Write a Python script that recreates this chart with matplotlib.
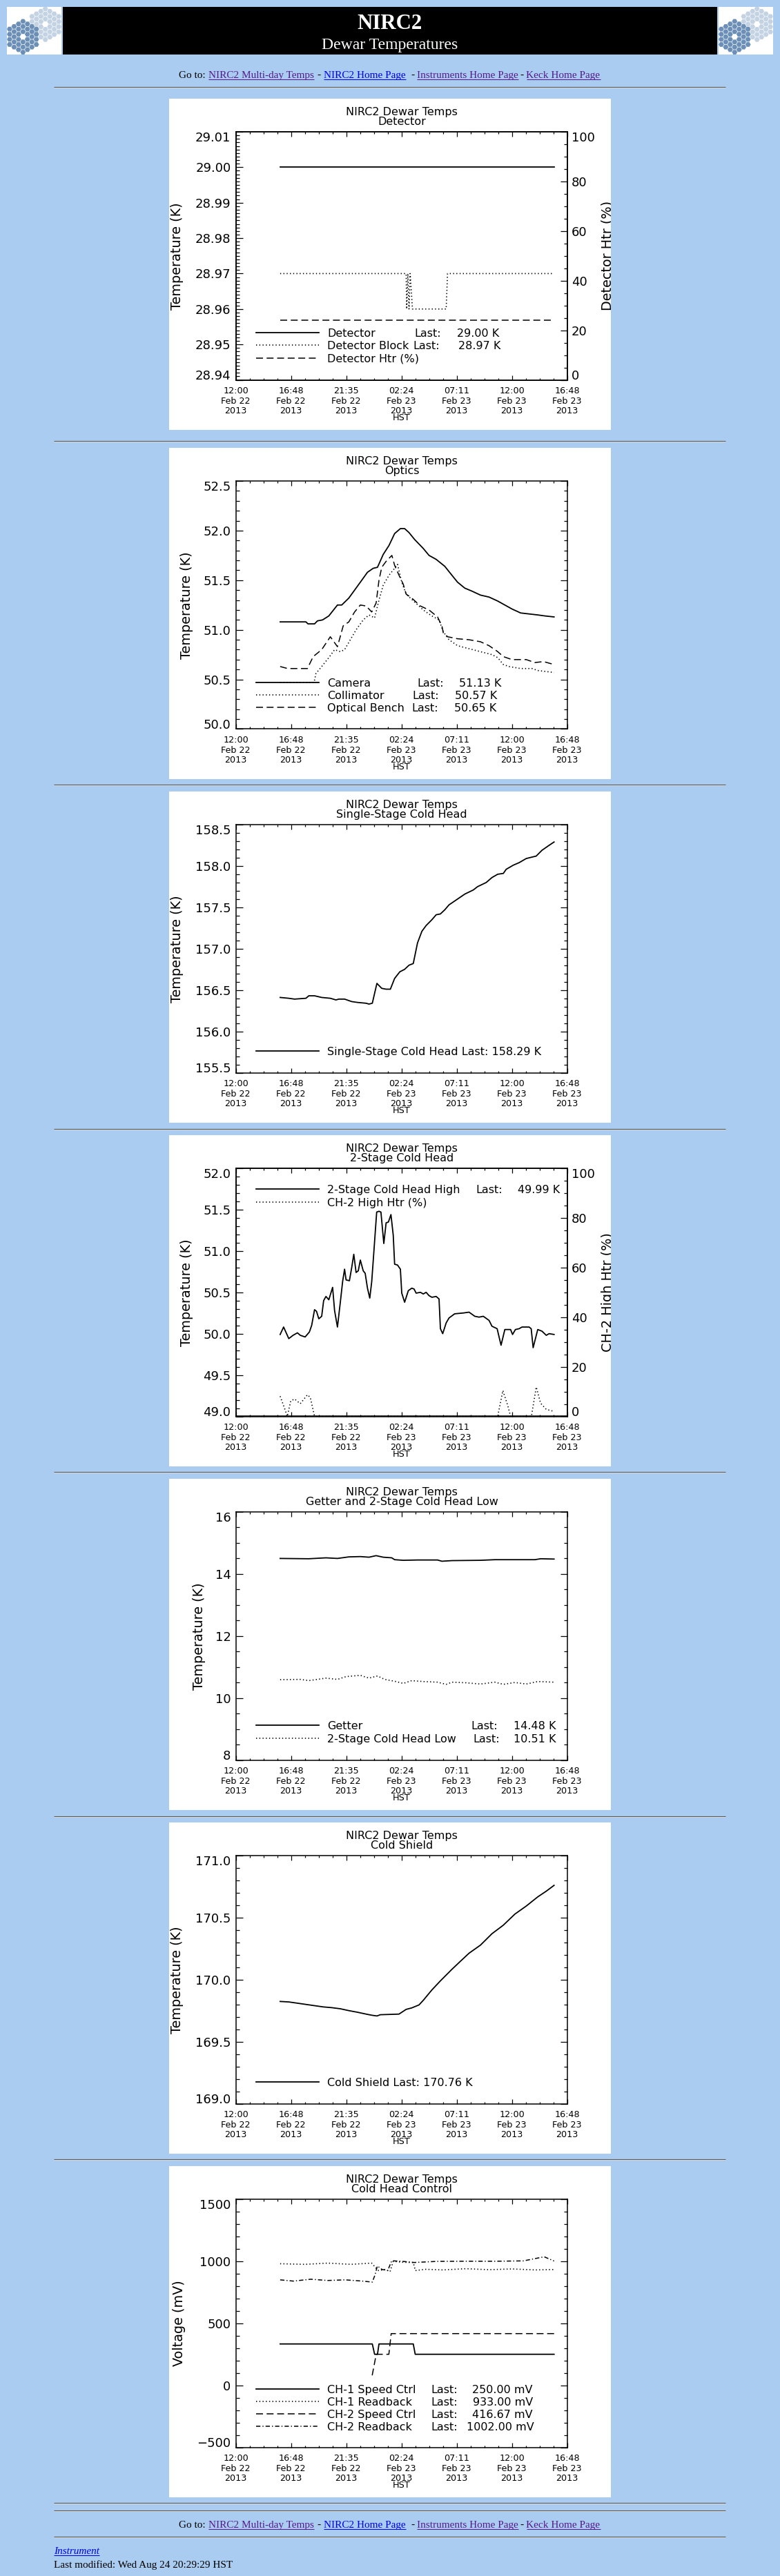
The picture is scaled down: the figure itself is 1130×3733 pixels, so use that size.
import numpy as np
import matplotlib
matplotlib.use('Agg')
import matplotlib.pyplot as plt
from matplotlib.patches import Rectangle, RegularPolygon
from matplotlib.ticker import MultipleLocator

W, H = 1130, 3733
PAGE_BG = '#aaccf0'
SERIF = 'Liberation Serif'
VISITED = '#551a8b'
LINK = '#0000ee'

plt.rcParams['font.family'] = ['DejaVu Sans']
plt.rcParams['lines.scale_dashes'] = False

# x axis: hours after 12:00 Feb 22 2013 HST
x_ticks = [0.0, 4.8, 9.6, 14.4, 19.2, 24.0, 28.8]
x_tick_labels = ['12:00\nFeb 22\n2013', '16:48\nFeb 22\n2013', '21:35\nFeb 22\n2013',
                 '02:24\nFeb 23\n2013', '07:11\nFeb 23\n2013', '12:00\nFeb 23\n2013',
                 '16:48\nFeb 23\n2013']

# --- Detector
det_t = [3.85, 27.65]
det_k = [29.00, 29.00]
blk_t = [3.85, 14.80, 14.85, 14.95, 15.05, 15.15, 15.35, 18.28, 18.40, 27.65]
blk_k = [28.97, 28.97, 28.96, 28.97, 28.96, 28.97, 28.96, 28.96, 28.97, 28.97]
dhtr_t = [3.85, 27.65]
dhtr_p = [24.0, 24.0]

# --- Optics
cam_t = [3.85, 6.09, 6.27, 6.84, 7.09, 7.54, 8.08, 8.83, 9.20, 9.82, 10.32, 10.82, 11.44,
         11.94, 12.31, 12.81, 13.31, 13.80, 14.30, 14.67, 15.05, 15.54, 16.29, 16.79, 17.41,
         18.16, 18.78, 19.27, 19.90, 20.52, 21.26, 22.01, 22.76, 23.38, 24.00, 24.75, 25.49,
         26.24, 26.86, 27.66]
cam_k = [51.08, 51.08, 51.06, 51.06, 51.09, 51.10, 51.14, 51.25, 51.25, 51.32, 51.40, 51.48,
         51.58, 51.62, 51.63, 51.76, 51.85, 51.97, 52.02, 52.02, 51.98, 51.91, 51.82, 51.75,
         51.71, 51.64, 51.55, 51.48, 51.42, 51.39, 51.35, 51.33, 51.29, 51.25, 51.21, 51.17,
         51.16, 51.15, 51.14, 51.13]
col_t = [3.85, 6.80, 6.96, 7.46, 8.08, 8.58, 9.08, 9.45, 9.95, 10.45, 11.07, 11.57, 12.06,
         12.44, 12.81, 13.31, 13.80, 14.05, 14.42, 14.80, 15.54, 16.29, 17.03, 17.66, 18.03,
         18.53, 19.27, 20.26, 21.26, 22.26, 22.76, 23.25, 23.75, 24.75, 25.74, 26.24, 27.66]
col_k = [50.47, 50.47, 50.56, 50.63, 50.72, 50.80, 50.78, 50.80, 50.90, 51.00, 51.10, 51.15,
         51.12, 51.30, 51.45, 51.55, 51.62, 51.66, 51.48, 51.36, 51.28, 51.20, 51.14, 51.10,
         50.98, 50.90, 50.84, 50.81, 50.78, 50.75, 50.72, 50.65, 50.63, 50.61, 50.61, 50.59,
         50.57]
ob_t = [3.85, 4.50, 6.22, 6.72, 7.46, 8.21, 8.83, 9.33, 9.82, 10.32, 10.82, 11.32, 11.81,
        12.19, 12.44, 12.68, 13.06, 13.56, 13.80, 14.18, 14.55, 14.80, 15.29, 16.04, 16.79,
        17.53, 17.91, 18.03, 18.41, 19.27, 20.27, 21.26, 22.01, 22.76, 23.25, 24.00, 25.24,
        25.99, 26.74, 27.66]
ob_k = [50.63, 50.61, 50.61, 50.73, 50.80, 50.93, 50.83, 51.04, 51.08, 51.18, 51.25, 51.24,
        51.18, 51.27, 51.50, 51.63, 51.69, 51.75, 51.65, 51.55, 51.46, 51.36, 51.32, 51.24,
        51.20, 51.13, 51.04, 50.97, 50.93, 50.91, 50.90, 50.88, 50.84, 50.78, 50.73, 50.70,
        50.70, 50.67, 50.68, 50.65]

# --- Single-stage cold head
ss_t = [3.85, 4.60, 5.10, 6.09, 6.34, 6.84, 7.46, 8.21, 8.70, 8.95, 9.45, 10.07, 10.57, 11.32,
        11.57, 11.86, 12.26, 12.68, 13.06, 13.43, 13.80, 14.25, 14.67, 15.05, 15.42, 15.79,
        16.17, 16.54, 17.04, 17.41, 17.78, 18.16, 18.53, 19.27, 19.90, 20.64, 21.01, 21.76,
        22.26, 22.76, 23.25, 23.50, 24.12, 24.62, 25.24, 26.11, 26.61, 27.23, 27.66]
ss_k = [156.41, 156.40, 156.39, 156.40, 156.43, 156.43, 156.41, 156.40, 156.38, 156.39,
        156.39, 156.36, 156.35, 156.34, 156.33, 156.34, 156.58, 156.52, 156.51, 156.51,
        156.64, 156.72, 156.75, 156.80, 156.82, 157.07, 157.21, 157.28, 157.35, 157.41,
        157.42, 157.47, 157.53, 157.60, 157.66, 157.71, 157.75, 157.80, 157.86, 157.90,
        157.91, 157.96, 158.01, 158.04, 158.09, 158.12, 158.19, 158.25, 158.29]

# --- 2-stage cold head (high)
hi_t = [3.85, 4.15, 4.60, 4.97, 5.35, 5.60, 6.02, 6.39, 6.59, 6.84, 7.01, 7.21, 7.46, 7.63,
        7.83, 8.08, 8.41, 8.58, 8.83, 9.08, 9.28, 9.45, 9.58, 9.87, 10.07, 10.25, 10.45, 10.64,
        10.82, 11.07, 11.24, 11.44, 11.64, 11.81, 11.99, 12.24, 12.44, 12.61, 12.86, 13.06,
        13.26, 13.48, 13.68, 13.80, 14.05, 14.30, 14.42, 14.67, 14.99, 15.29, 15.49, 15.67,
        16.04, 16.29, 16.54, 16.79, 17.04, 17.41, 17.66, 17.78, 17.98, 18.28, 18.53, 19.02,
        19.77, 20.27, 20.77, 21.14, 21.51, 22.01, 22.26, 22.71, 23.05, 23.38, 23.88, 24.05,
        24.30, 24.62, 24.87, 25.49, 25.67, 25.84, 26.24, 26.61, 26.98, 27.23, 27.66]
hi_k = [49.99, 50.08, 49.94, 49.98, 50.01, 49.98, 49.96, 50.02, 50.10, 50.29, 50.27, 50.18,
        50.21, 50.40, 50.45, 50.41, 50.56, 50.28, 50.08, 50.38, 50.63, 50.78, 50.65, 50.64,
        50.80, 50.96, 50.74, 50.76, 50.89, 50.76, 50.73, 50.55, 50.43, 50.63, 50.98, 51.47,
        51.48, 51.47, 51.09, 51.34, 51.35, 51.44, 51.19, 50.84, 50.83, 50.78, 50.49, 50.38,
        50.52, 50.55, 50.54, 50.49, 50.50, 50.48, 50.50, 50.46, 50.44, 50.45, 50.42, 50.06,
        50.00, 50.13, 50.19, 50.24, 50.25, 50.26, 50.21, 50.20, 50.21, 50.16, 50.09, 50.06,
        49.86, 50.05, 50.05, 49.99, 50.05, 50.06, 50.08, 50.08, 50.06, 49.83, 50.05, 50.03,
        49.98, 50.00, 49.99]
chtr_t = [3.85, 4.22, 4.47, 4.77, 5.10, 5.60, 6.22, 6.47, 6.84, 22.76, 23.21, 23.63, 23.88,
          25.69, 26.11, 26.49, 26.98, 27.66]
chtr_p = [8.1, 3.4, 0.0, 6.2, 7.0, 5.1, 8.7, 7.6, 0.0, 0.0, 10.4, 4.4, 0.0, 0.0, 11.8, 5.3,
          2.8, 2.0]

# --- Getter and 2-stage cold head low
get_t = [3.85, 6.34, 7.83, 8.83, 9.82, 10.82, 11.57, 12.19, 12.81, 13.55, 13.80, 14.55,
         15.79, 17.53, 17.91, 18.78, 21.26, 22.51, 23.75, 25.99, 26.49, 27.66]
get_k = [14.50, 14.49, 14.52, 14.50, 14.55, 14.56, 14.54, 14.59, 14.54, 14.52, 14.46, 14.44,
         14.45, 14.45, 14.41, 14.43, 14.44, 14.46, 14.46, 14.46, 14.49, 14.48]
lo_t = [3.85, 5.60, 6.34, 7.83, 8.83, 9.58, 10.82, 11.57, 12.31, 12.93, 13.80, 14.55, 15.29,
        16.29, 17.53, 18.28, 18.78, 20.02, 21.26, 22.51, 23.25, 24.25, 25.24, 26.24, 27.66]
lo_k = [10.59, 10.60, 10.56, 10.64, 10.60, 10.69, 10.73, 10.64, 10.71, 10.60, 10.54, 10.47,
        10.56, 10.53, 10.51, 10.44, 10.51, 10.49, 10.45, 10.51, 10.44, 10.50, 10.45, 10.53,
        10.51]

# --- Cold shield
cs_t = [3.85, 4.60, 5.35, 6.09, 6.84, 7.59, 8.33, 9.08, 9.82, 10.57, 11.32, 11.81, 12.26,
        12.56, 13.56, 14.18, 14.80, 15.29, 15.92, 16.29, 17.04, 17.78, 18.78, 19.52, 20.27,
        21.26, 22.26, 23.25, 24.25, 25.24, 26.24, 26.98, 27.66]
cs_k = [169.824, 169.82, 169.81, 169.80, 169.79, 169.78, 169.774, 169.765, 169.75, 169.737,
        169.722, 169.713, 169.707, 169.717, 169.72, 169.722, 169.76, 169.772, 169.796,
        169.833, 169.917, 169.99, 170.083, 170.148, 170.213, 170.278, 170.37, 170.439,
        170.528, 170.593, 170.667, 170.713, 170.76]

# --- Cold head control (mV)
c1s_t = [3.85, 11.86, 12.06, 12.31, 12.44, 15.42, 15.59, 27.66]
c1s_v = [333.33, 333.33, 250.0, 250.0, 333.33, 333.33, 250.0, 250.0]
c1r_t = [3.85, 6.0, 8.0, 10.0, 11.8, 12.2, 12.4, 13.0, 13.4, 13.68, 14.5, 15.42, 15.6, 16.5,
         18.0, 20.0, 22.0, 24.0, 26.0, 27.66]
c1r_v = [980, 975, 985, 975, 985, 943, 925, 934, 916, 999, 992, 990, 925, 935, 930, 940, 932,
         938, 930, 933]
c2s_t = [11.85, 12.2, 13.3, 13.5, 27.66]
c2s_v = [80.0, 250.0, 250.0, 416.67, 416.67]
c2r_t = [3.85, 5.0, 6.5, 8.0, 9.5, 11.0, 11.86, 12.1, 12.3, 12.7, 13.2, 13.4, 13.55, 14.5,
         15.5, 17.5, 20.0, 22.5, 25.0, 26.8, 27.66]
c2r_v = [850, 840, 855, 845, 850, 840, 832, 891, 962, 934, 925, 971, 1004, 999, 990, 999, 1000,
         1000, 1003, 1036, 1002]

SOLID = dict(linestyle='-', linewidth=1.3, color='black')
DOTTED = dict(linestyle=(0, (1.0, 2.4)), linewidth=1.2, color='black')
DASHED = dict(linestyle=(0, (7.2, 3.8)), linewidth=1.1, color='black')
DASHDOT = dict(linestyle=(0, (4.5, 2.2, 1.0, 2.2)), linewidth=1.1, color='black')

fig = plt.figure(figsize=(W / 100, H / 100), dpi=100, facecolor=PAGE_BG)


def rect(x, y, w, h):
    return [x / W, 1 - (y + h) / H, w / W, h / H]


page = fig.add_axes([0, 0, 1, 1])
page.set_xlim(0, W)
page.set_ylim(H, 0)
page.axis('off')


def hr(y):
    page.plot([78, 1051], [y, y], color='#5a5a5a', lw=0.8, solid_capstyle='butt')
    page.plot([78, 1051], [y + 1.2, y + 1.2], color='#d6d6d6', lw=0.7, solid_capstyle='butt')


def draw_logo(x0):
    box = Rectangle((x0, 10), 79, 69, facecolor='white', edgecolor='none')
    page.add_patch(box)
    R = 4.3
    for cx, cy, color in [(x0 + 55.7, 35.0, '#c4d3e3'), (x0 + 23.3, 53.3, '#6b8fb6')]:
        for q in range(-3, 4):
            for r in range(-3, 4):
                d = max(abs(q), abs(r), abs(q + r))
                if d == 0 or d > 3:
                    continue
                hx = cx + 1.5 * R * q
                hy = cy + np.sqrt(3) * R * (r + q / 2)
                hexa = RegularPolygon((hx, hy), 6, radius=3.9, orientation=np.pi / 6,
                                      facecolor=color, edgecolor='none')
                page.add_patch(hexa)
                hexa.set_clip_path(box)


draw_logo(10)
draw_logo(1041)
page.add_patch(Rectangle((91, 10), 948, 69, facecolor='black', edgecolor='none'))
page.text(565, 42.3, 'NIRC2', color='white', fontfamily=SERIF, fontweight='bold',
          fontsize=22.2, ha='center', va='baseline')
page.text(565, 70.7, 'Dewar Temperatures', color='white', fontfamily=SERIF,
          fontsize=17.1, ha='center', va='baseline')

PAGE_FS = 11.0


def goto_line(base):
    renderer = fig.canvas.get_renderer()
    page.text(259.4, base, 'Go to:', fontfamily=SERIF, fontsize=PAGE_FS, va='baseline')
    for dx in [459, 595.3, 753.8]:
        page.text(dx, base, '-', fontfamily=SERIF, fontsize=PAGE_FS, va='baseline')
    links = [(302, 'NIRC2 Multi-day Temps', VISITED), (469, 'NIRC2 Home Page', LINK),
             (604, 'Instruments Home Page', VISITED), (762.5, 'Keck Home Page', VISITED)]
    for lx, s, c in links:
        t = page.text(lx, base, s, color=c, fontfamily=SERIF, fontsize=PAGE_FS,
                      va='baseline')
        w = t.get_window_extent(renderer).width
        page.plot([lx, lx + w], [base + 2, base + 2], color=c, lw=0.75,
                  solid_capstyle='butt')


goto_line(112.7)
for y in [126, 639, 1137, 1636, 2133, 2632, 3129, 3627, 3638, 3676]:
    hr(y)
goto_line(3662.7)
rend = fig.canvas.get_renderer()
ti = page.text(78, 3701, 'Instrument', color=LINK, fontfamily=SERIF, fontstyle='italic',
               fontsize=PAGE_FS, va='baseline')
wi = ti.get_window_extent(rend).width
page.plot([78, 78 + wi], [3703.3, 3703.3], color=LINK, lw=0.75, solid_capstyle='butt')
page.text(78, 3720.5, 'Last modified: Wed Aug 24 20:29:29 HST', fontfamily=SERIF,
          fontsize=PAGE_FS, va='baseline')

LEG_FS = 11.5
TXT = dict(fontsize=LEG_FS, va='center_baseline')


def make_panel(top, subtitle, ylim, yticks, ylabels, yminor, ylabel, ylabel_x):
    pax = fig.add_axes(rect(245, top, 640, 480))
    pax.set_xlim(0, 640)
    pax.set_ylim(480, 0)
    pax.set_facecolor('white')
    pax.set_xticks([])
    pax.set_yticks([])
    for s in pax.spines.values():
        s.set_visible(False)
    pax.text(337, 17.5, 'NIRC2 Dewar Temps', ha='center', va='center_baseline',
             fontsize=11.5)
    pax.text(337, 32.0, subtitle, ha='center', va='center_baseline', fontsize=11.5)
    pax.text(337, 460.7, 'HST', ha='center', va='center_baseline', fontsize=9.2)
    pax.text(ylabel_x, 227.7, ylabel, rotation=90, ha='center', va='center',
             fontsize=13.9)

    ax = fig.add_axes(rect(245 + 96.7, top + 48, 480, 359.5))
    ax.set_facecolor('none')
    ax.set_xlim(0, 28.8)
    ax.set_ylim(*ylim)
    ax.set_xticks(x_ticks, x_tick_labels)
    ax.set_yticks(yticks, ylabels)
    ax.xaxis.set_minor_locator(MultipleLocator(1.2))
    ax.yaxis.set_minor_locator(MultipleLocator(yminor))
    ax.tick_params(which='both', direction='in', top=True, right=True, width=0.9)
    ax.tick_params(axis='x', which='major', length=5.0, labelsize=9.2, pad=7.0)
    ax.tick_params(axis='x', which='minor', length=2.5)
    ax.tick_params(axis='y', which='major', length=7.2, labelsize=13, pad=5.2)
    ax.tick_params(axis='y', which='minor', length=3.6)
    for t in ax.xaxis.get_major_ticks():
        t.label1.set_linespacing(1.16)
    yt = ax.yaxis.get_major_ticks()
    yt[0].label1.set_va('baseline')
    yt[-1].label1.set_va('top')
    for s in ax.spines.values():
        s.set_linewidth(1.1)
    return pax, ax


def right_axis(ax, pax, label):
    ax.tick_params(axis='y', which='both', right=False)
    ax2 = ax.twinx()
    ax2.set_ylim(0, 100)
    ax2.set_yticks([0, 20, 40, 60, 80, 100], ['0', '20', '40', '60', '80', '100'])
    ax2.yaxis.set_minor_locator(MultipleLocator(5))
    ax2.tick_params(axis='y', which='both', direction='in', width=0.9)
    ax2.tick_params(axis='y', which='major', length=7.2, labelsize=13, pad=4.3)
    ax2.tick_params(axis='y', which='minor', length=3.6)
    yt = ax2.yaxis.get_major_ticks()
    yt[0].label2.set_va('baseline')
    yt[-1].label2.set_va('top')
    for s in ax2.spines.values():
        s.set_linewidth(1.1)
    pax.text(625.5, 227.7, label, rotation=90, ha='left', va='center', fontsize=13.9,
             clip_on=True)
    return ax2


def legend_row(pax, y, style, name, last_x=None, value=None, value_end=None):
    pax.plot([126, 217], [y, y], **style)
    pax.text(229, y, name, **TXT)
    if last_x is not None:
        pax.text(last_x, y, 'Last:', **TXT)
        pax.text(value_end, y, value, ha='right', **TXT)


def fmt(vals, f):
    return [f.format(v).replace('-', '\u2212') for v in vals]


tops = [143, 649, 1147, 1645, 2143, 2641, 3139]

# 1 Detector
yt1 = [28.94, 28.95, 28.96, 28.97, 28.98, 28.99, 29.00, 29.01]
pax, ax = make_panel(tops[0], 'Detector', (28.94, 29.01), yt1, fmt(yt1, '{:.2f}'), 0.001,
                     'Temperature (K)', 11.5)
ax2 = right_axis(ax, pax, 'Detector Htr (%)')
ax.plot(det_t, det_k, **SOLID)
ax.plot(blk_t, blk_k, **DOTTED)
ax2.plot(dhtr_t, dhtr_p, **DASHED)
legend_row(pax, 339, SOLID, 'Detector', 355.7, '29.00 K', 478)
legend_row(pax, 357, DOTTED, 'Detector Block', 353.6, '28.97 K', 480)
legend_row(pax, 375.7, DASHED, 'Detector Htr (%)')

# 2 Optics
yt2 = [50.0, 50.5, 51.0, 51.5, 52.0, 52.5]
pax, ax = make_panel(tops[1], 'Optics', (50.0, 52.5), yt2, fmt(yt2, '{:.1f}'), 0.1,
                     'Temperature (K)', 25.2)
ax.plot(cam_t, cam_k, **SOLID)
ax.plot(col_t, col_k, **DOTTED)
ax.plot(ob_t, ob_k, **DASHED)
legend_row(pax, 339.7, SOLID, 'Camera', 359, '51.13 K', 481)
legend_row(pax, 357.7, DOTTED, 'Collimator', 352.8, '50.57 K', 475)
legend_row(pax, 375.7, DASHED, 'Optical Bench', 351.5, '50.65 K', 474)

# 3 Single-stage cold head
yt3 = [155.5, 156.0, 156.5, 157.0, 157.5, 158.0, 158.5]
pax, ax = make_panel(tops[2], 'Single-Stage Cold Head', (155.5, 158.5), yt3,
                     fmt(yt3, '{:.1f}'), 0.1, 'Temperature (K)', 11.5)
ax.plot(ss_t, ss_k, **SOLID)
legend_row(pax, 376, SOLID, 'Single-Stage Cold Head Last: 158.29 K')

# 4 2-stage cold head
yt4 = [49.0, 49.5, 50.0, 50.5, 51.0, 51.5, 52.0]
pax, ax = make_panel(tops[3], '2-Stage Cold Head', (49.0, 52.0), yt4, fmt(yt4, '{:.1f}'),
                     0.1, 'Temperature (K)', 25.2)
ax2 = right_axis(ax, pax, 'CH-2 High Htr (%)')
ax.plot(hi_t, hi_k, **SOLID)
ax2.plot(chtr_t, chtr_p, **DOTTED)
legend_row(pax, 78.3, SOLID, '2-Stage Cold Head High', 444.8, '49.99 K', 566)
legend_row(pax, 96.7, DOTTED, 'CH-2 High Htr (%)')

# 5 Getter and 2-stage cold head low
yt5 = [8, 10, 12, 14, 16]
pax, ax = make_panel(tops[4], 'Getter and 2-Stage Cold Head Low', (8, 16), yt5,
                     fmt(yt5, '{:d}'), 0.5, 'Temperature (K)', 43.4)
ax.plot(get_t, get_k, **SOLID)
ax.plot(lo_t, lo_k, **DOTTED)
legend_row(pax, 357.3, SOLID, 'Getter', 437.8, '14.48 K', 561)
legend_row(pax, 375.6, DOTTED, '2-Stage Cold Head Low', 440.7, '10.51 K', 561)

# 6 Cold shield
yt6 = [169.0, 169.5, 170.0, 170.5, 171.0]
pax, ax = make_panel(tops[5], 'Cold Shield', (169.0, 171.0), yt6, fmt(yt6, '{:.1f}'), 0.1,
                     'Temperature (K)', 11.5)
ax.plot(cs_t, cs_k, **SOLID)
legend_row(pax, 375.7, SOLID, 'Cold Shield Last: 170.76 K')

# 7 Cold head control
yt7 = [-500, 0, 500, 1000, 1500]
pax, ax = make_panel(tops[6], 'Cold Head Control', (-500, 1500), yt7, fmt(yt7, '{:d}'), 100,
                     'Voltage (mV)', 14.4)
ax.plot(c1s_t, c1s_v, **SOLID)
ax.plot(c1r_t, c1r_v, **DOTTED)
ax.plot(c2s_t, c2s_v, **DASHED)
ax.plot(c2r_t, c2r_v, **DASHDOT)
legend_row(pax, 322.7, SOLID, 'CH-1 Speed Ctrl', 379.7, '250.00 mV', 527)
legend_row(pax, 340.7, DOTTED, 'CH-1 Readback', 379.7, '933.00 mV', 527)
legend_row(pax, 358.7, DASHED, 'CH-2 Speed Ctrl', 379.7, '416.67 mV', 527)
legend_row(pax, 376.7, DASHDOT, 'CH-2 Readback', 379.7, '1002.00 mV', 529)

fig.savefig('out.png', dpi=100, facecolor=PAGE_BG)
